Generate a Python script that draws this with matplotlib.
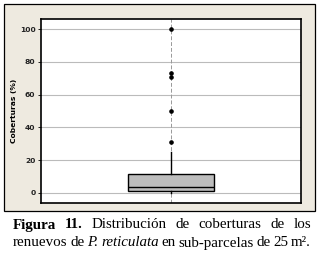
import matplotlib
matplotlib.use("Agg")
import matplotlib.pyplot as plt
from matplotlib.patches import Rectangle

# box statistics (Coberturas %)
q1 = 1.0
median = 3.5
q3 = 11.5
whisker_low = 0.0
whisker_high = 25.0
outliers = [31, 50, 71, 73, 100]
y_ticks = [0, 20, 40, 60, 80, 100]

W, H = 320, 254
fig = plt.figure(figsize=(W / 100, H / 100), dpi=100)
fig.patch.set_facecolor("white")

# beige panel behind the plot
panel = Rectangle((4 / W, 1 - 211 / H), 311 / W, 207 / H, transform=fig.transFigure,
                  facecolor="#EEEAE0", edgecolor="black", linewidth=0.9, zorder=-5)
fig.patches.append(panel)

ax = fig.add_axes([41 / W, 1 - 203 / H, 259.5 / W, 184 / H])
ax.set_zorder(2)
ax.set_facecolor("white")

stats = [dict(med=median, q1=q1, q3=q3, whislo=whisker_low, whishi=whisker_high,
              fliers=outliers)]
ax.bxp(stats, positions=[1], widths=0.5, patch_artist=True, showcaps=False,
       boxprops=dict(facecolor="#BDBDBD", edgecolor="black", linewidth=1.0),
       medianprops=dict(color="black", linewidth=1.0),
       whiskerprops=dict(color="black", linewidth=1.0),
       flierprops=dict(marker="o", markersize=2.3, markerfacecolor="black",
                       markeredgecolor="black"), zorder=3)

ax.set_xlim(0.25, 1.75)
ax.set_ylim(-6.1, 106.1)
ax.set_yticks(y_ticks)
ax.set_yticklabels([str(t) for t in y_ticks], fontsize=5.4, fontweight="bold", color="#222222")
ax.set_xticks([])
ax.tick_params(axis="y", length=2.5, width=0.6, pad=1.5)
for t in y_ticks:
    ax.axhline(t, color="#BBBBBB", linewidth=0.8, zorder=1)
ax.axvline(1, color="#999999", linewidth=0.7, linestyle=(0, (4, 2)), zorder=1)
for s in ax.spines.values():
    s.set_linewidth(1.2)
ax.set_ylabel("Coberturas (%)", fontsize=5.4, fontweight="bold", labelpad=2)

# justified caption
fs = 10.8
line1 = [("Figura", "bold", "normal"), ("11.", "bold", "normal"),
         ("Distribución", "normal", "normal"), ("de", "normal", "normal"),
         ("coberturas", "normal", "normal"), ("de", "normal", "normal"),
         ("los", "normal", "normal")]
line2 = [("renuevos", "normal", "normal"), ("de", "normal", "normal"),
         ("P.", "normal", "italic"), ("reticulata", "normal", "italic"),
         ("en", "normal", "normal"), ("sub-parcelas", "normal", "normal"),
         ("de", "normal", "normal"), ("25", "normal", "normal"),
         ("m².", "normal", "normal")]

fig.canvas.draw()
renderer = fig.canvas.get_renderer()


def justify(words, y_px, x0=13, x1=311):
    texts = []
    for w, weight, style in words:
        t = fig.text(0, 1 - y_px / H, w, fontsize=fs, family="Liberation Serif",
                     fontweight=weight, fontstyle=style, va="center", ha="left")
        texts.append(t)
    widths = [t.get_window_extent(renderer).width for t in texts]
    gap = (x1 - x0 - sum(widths)) / (len(texts) - 1)
    x = x0
    for t, wd in zip(texts, widths):
        t.set_x(x / W)
        x += wd + gap


justify(line1, 225)
justify(line2, 243)

fig.savefig("out.png", dpi=100)
